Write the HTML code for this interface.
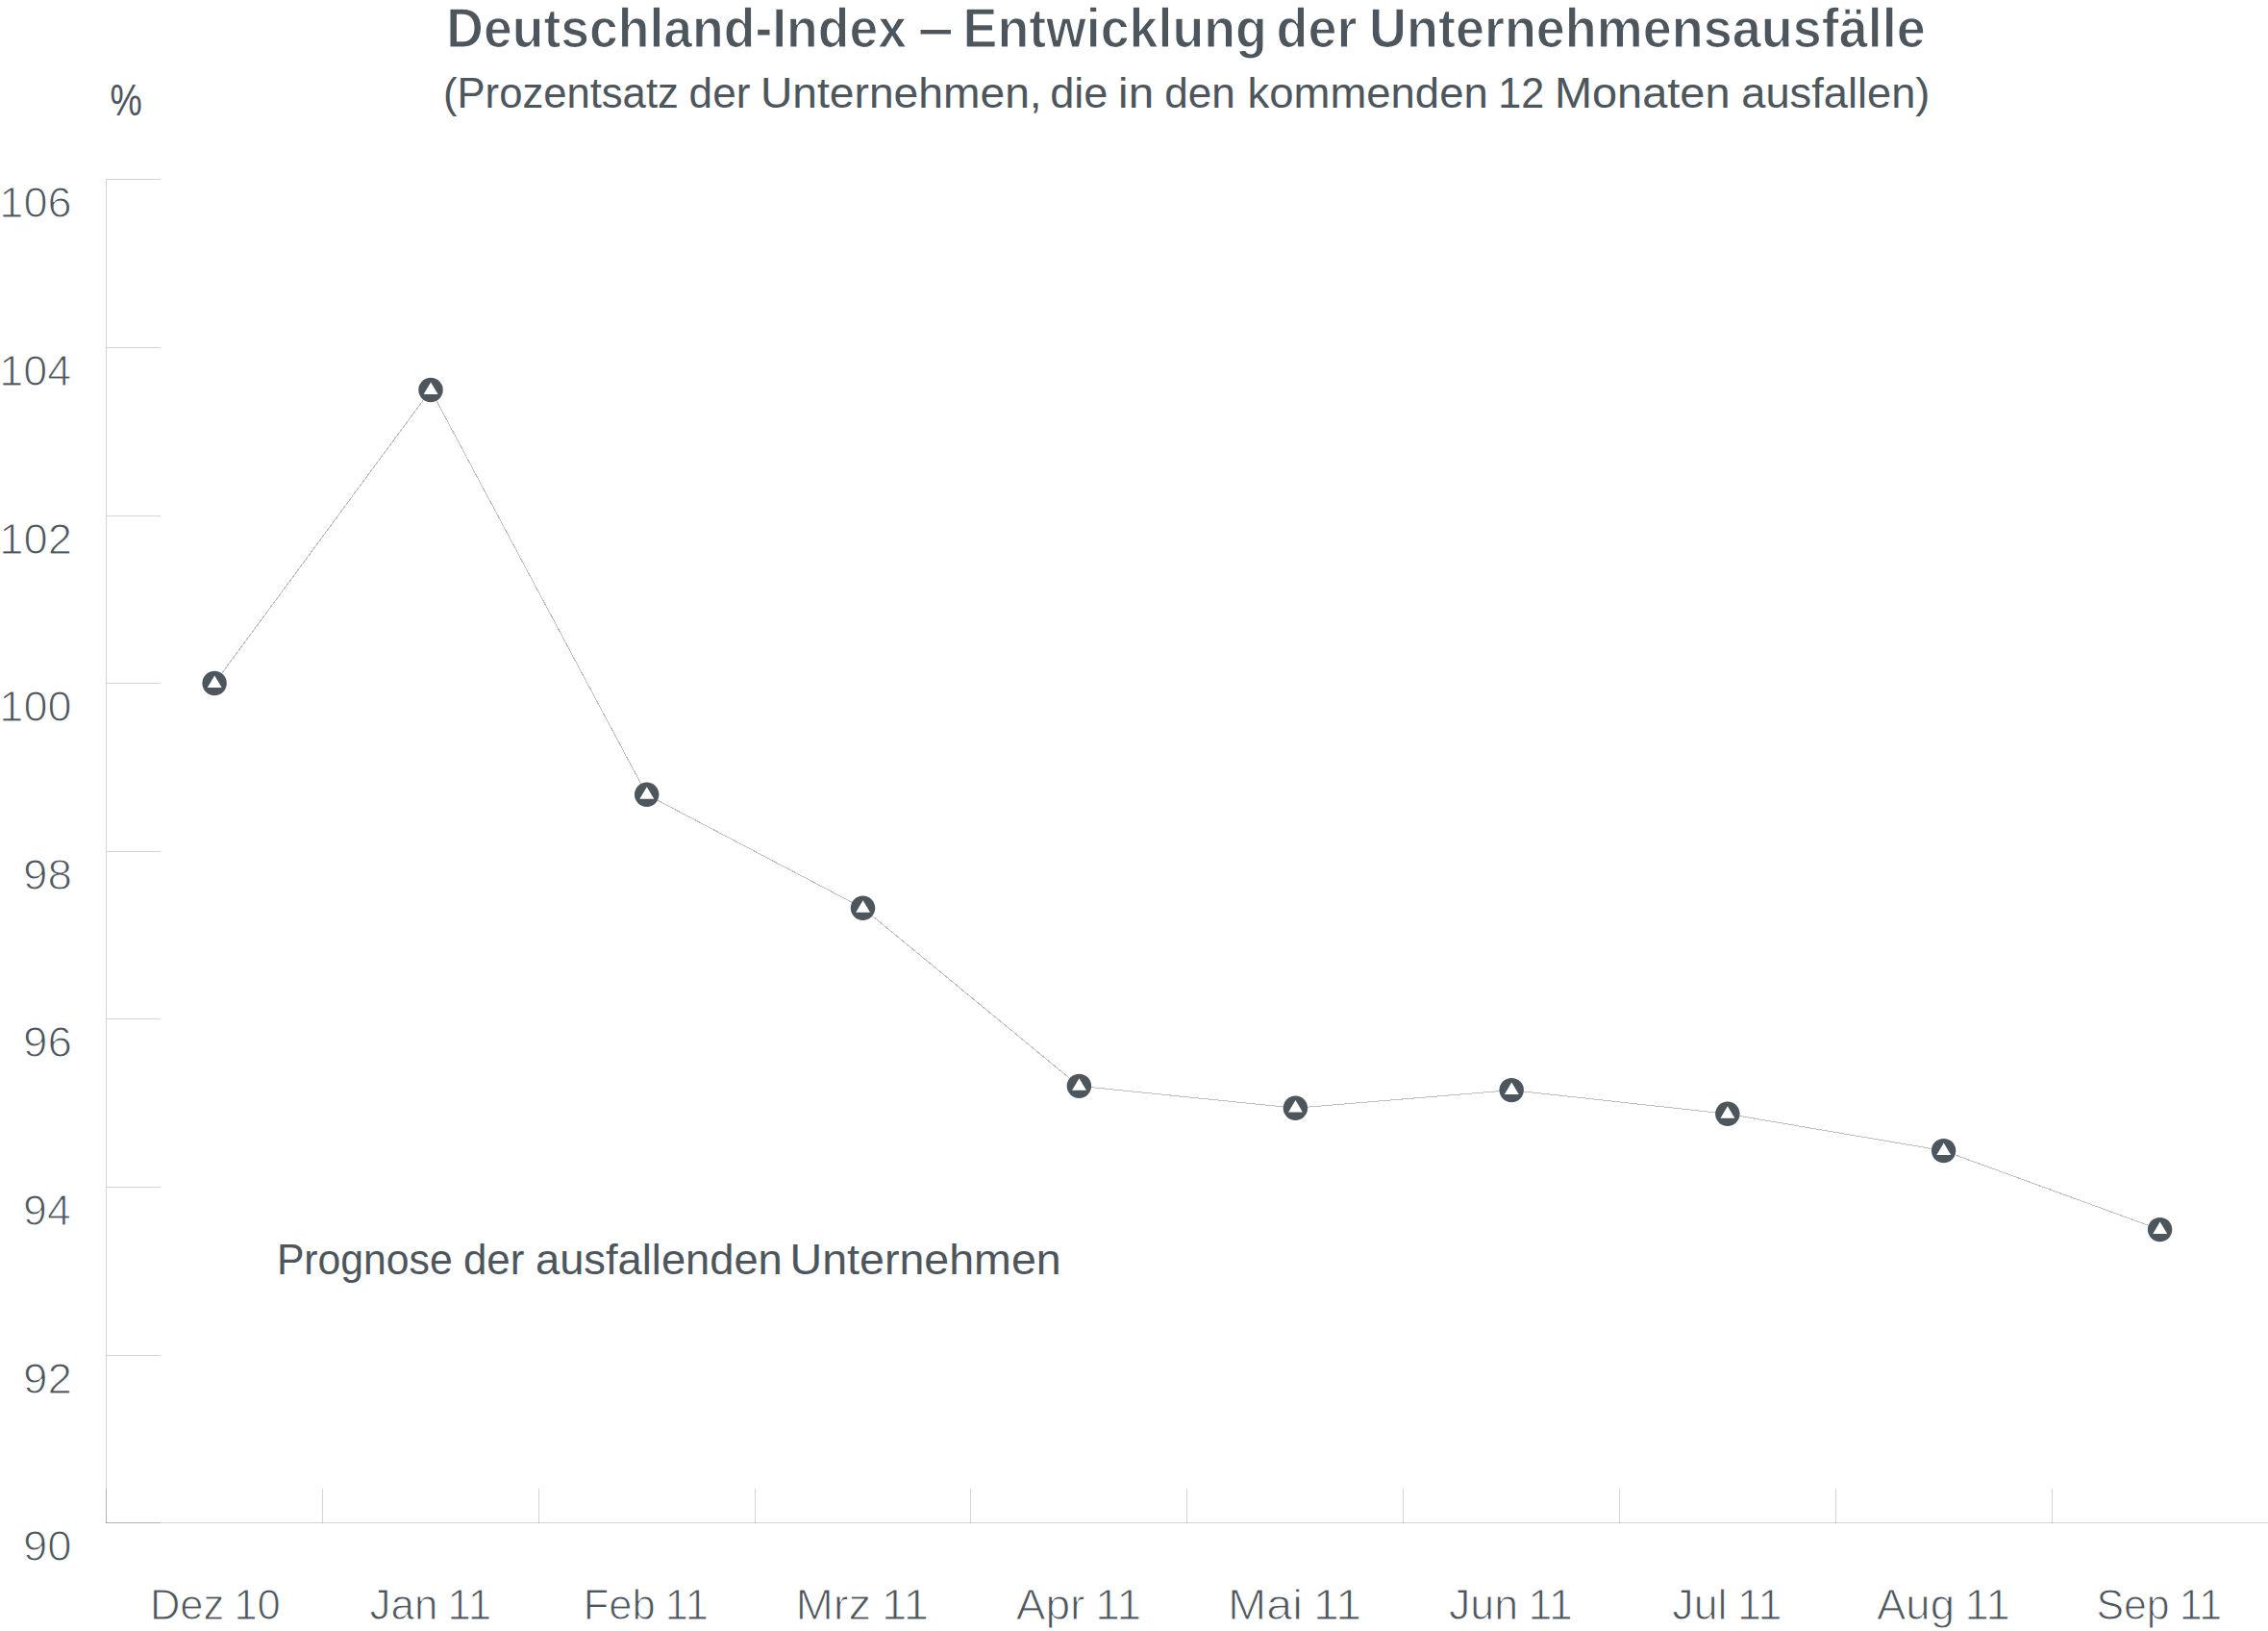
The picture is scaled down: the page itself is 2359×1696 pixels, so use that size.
<!DOCTYPE html>
<html lang="de"><head><meta charset="utf-8"><title>Deutschland-Index – Entwicklung der Unternehmensausfälle</title>
<style>
html,body{margin:0;padding:0;background:#fff;}
body{width:2359px;height:1696px;overflow:hidden;}
svg{display:block;}
text{font-family:"Liberation Sans",sans-serif;fill:#4d565d;white-space:pre;}
.t{font-weight:bold;font-size:57.3px;stroke:#fff;stroke-width:1.25px;paint-order:fill stroke;}
.s{font-size:44px;}
.p{font-size:46.5px;}
.yl{font-size:44.5px;stroke:#fff;stroke-width:1.1px;paint-order:fill stroke;}
.xl{font-size:44.3px;word-spacing:-2px;stroke:#fff;stroke-width:1.0px;paint-order:fill stroke;}
</style></head><body>
<svg width="2359" height="1696" viewBox="0 0 2359 1696">
<rect width="2359" height="1696" fill="#fff"/>

<g stroke="#4d565d" stroke-opacity="0.25" stroke-width="1" fill="none" shape-rendering="crispEdges">
<line x1="110.5" y1="186" x2="110.5" y2="1584"/>
<line x1="110" y1="1583.5" x2="2359" y2="1583.5"/>
<line x1="111" y1="186.5" x2="167" y2="186.5"/>
<line x1="111" y1="361.5" x2="167" y2="361.5"/>
<line x1="111" y1="536.5" x2="167" y2="536.5"/>
<line x1="111" y1="710.5" x2="167" y2="710.5"/>
<line x1="111" y1="885.5" x2="167" y2="885.5"/>
<line x1="111" y1="1059.5" x2="167" y2="1059.5"/>
<line x1="111" y1="1234.5" x2="167" y2="1234.5"/>
<line x1="111" y1="1409.5" x2="167" y2="1409.5"/>
<line x1="110" y1="1583.5" x2="167" y2="1583.5"/>
<line x1="110.5" y1="1548" x2="110.5" y2="1584"/>
<line x1="335.5" y1="1548" x2="335.5" y2="1584"/>
<line x1="560.5" y1="1548" x2="560.5" y2="1584"/>
<line x1="785.5" y1="1548" x2="785.5" y2="1584"/>
<line x1="1009.5" y1="1548" x2="1009.5" y2="1584"/>
<line x1="1234.5" y1="1548" x2="1234.5" y2="1584"/>
<line x1="1459.5" y1="1548" x2="1459.5" y2="1584"/>
<line x1="1684.5" y1="1548" x2="1684.5" y2="1584"/>
<line x1="1909.5" y1="1548" x2="1909.5" y2="1584"/>
<line x1="2134.5" y1="1548" x2="2134.5" y2="1584"/>
</g>
<polyline fill="none" stroke="#bbbfc3" stroke-width="1" shape-rendering="crispEdges" points="223.1,710.5 448.0,405.5 672.7,826.3 897.5,944.3 1122.4,1129.35 1347.4,1152.2 1572.2,1133.6 1796.85,1158.3 2021.65,1196.6 2246.6,1278.6"/>
<g transform="translate(223.1,710.5)"><circle r="12.7" fill="#4d565d"/><path d="M0.1,-8.1 L7.55,4.4 L-7.35,4.4 Z" fill="#fff"/></g>
<g transform="translate(448.0,405.5)"><circle r="12.7" fill="#4d565d"/><path d="M0.1,-8.1 L7.55,4.4 L-7.35,4.4 Z" fill="#fff"/></g>
<g transform="translate(672.7,826.3)"><circle r="12.7" fill="#4d565d"/><path d="M0.1,-8.1 L7.55,4.4 L-7.35,4.4 Z" fill="#fff"/></g>
<g transform="translate(897.5,944.3)"><circle r="12.7" fill="#4d565d"/><path d="M0.1,-8.1 L7.55,4.4 L-7.35,4.4 Z" fill="#fff"/></g>
<g transform="translate(1122.4,1129.35)"><circle r="12.7" fill="#4d565d"/><path d="M0.1,-8.1 L7.55,4.4 L-7.35,4.4 Z" fill="#fff"/></g>
<g transform="translate(1347.4,1152.2)"><circle r="12.7" fill="#4d565d"/><path d="M0.1,-8.1 L7.55,4.4 L-7.35,4.4 Z" fill="#fff"/></g>
<g transform="translate(1572.2,1133.6)"><circle r="12.7" fill="#4d565d"/><path d="M0.1,-8.1 L7.55,4.4 L-7.35,4.4 Z" fill="#fff"/></g>
<g transform="translate(1796.85,1158.3)"><circle r="12.7" fill="#4d565d"/><path d="M0.1,-8.1 L7.55,4.4 L-7.35,4.4 Z" fill="#fff"/></g>
<g transform="translate(2021.65,1196.6)"><circle r="12.7" fill="#4d565d"/><path d="M0.1,-8.1 L7.55,4.4 L-7.35,4.4 Z" fill="#fff"/></g>
<g transform="translate(2246.6,1278.6)"><circle r="12.7" fill="#4d565d"/><path d="M0.1,-8.1 L7.55,4.4 L-7.35,4.4 Z" fill="#fff"/></g>
<text class="t" y="48.5"><tspan x="464.3" textLength="478.7" lengthAdjust="spacingAndGlyphs">Deutschland-Index</tspan> <tspan x="954.7" textLength="37.0" lengthAdjust="spacingAndGlyphs">–</tspan> <tspan x="1001.6" textLength="316.2" lengthAdjust="spacingAndGlyphs">Entwicklung</tspan> <tspan x="1327.5" textLength="83.9" lengthAdjust="spacingAndGlyphs">der</tspan> <tspan x="1424.0" textLength="578.7" lengthAdjust="spacingAndGlyphs">Unternehmensausfälle</tspan></text>
<text class="s" y="111.9"><tspan x="461.0" textLength="244.8" lengthAdjust="spacingAndGlyphs">(Prozentsatz</tspan> <tspan x="716.6" textLength="63.8" lengthAdjust="spacingAndGlyphs">der</tspan> <tspan x="790.9" textLength="292.8" lengthAdjust="spacingAndGlyphs">Unternehmen,</tspan> <tspan x="1092.2" textLength="60.2" lengthAdjust="spacingAndGlyphs">die</tspan> <tspan x="1163.1" textLength="37.0" lengthAdjust="spacingAndGlyphs">in</tspan> <tspan x="1211.3" textLength="73.6" lengthAdjust="spacingAndGlyphs">den</tspan> <tspan x="1297.6" textLength="250.1" lengthAdjust="spacingAndGlyphs">kommenden</tspan> <tspan x="1558.3" textLength="48.0" lengthAdjust="spacingAndGlyphs">12</tspan> <tspan x="1616.9" textLength="182.6" lengthAdjust="spacingAndGlyphs">Monaten</tspan> <tspan x="1811.3" textLength="196.1" lengthAdjust="spacingAndGlyphs">ausfallen)</tspan></text>
<text class="s" y="1324.5"><tspan x="287.9" textLength="182.8" lengthAdjust="spacingAndGlyphs">Prognose</tspan> <tspan x="481.9" textLength="63.4" lengthAdjust="spacingAndGlyphs">der</tspan> <tspan x="557.0" textLength="256.8" lengthAdjust="spacingAndGlyphs">ausfallenden</tspan> <tspan x="821.6" textLength="282.1" lengthAdjust="spacingAndGlyphs">Unternehmen</tspan></text>
<text class="p" y="119.6"><tspan x="114.5" textLength="33.3" lengthAdjust="spacingAndGlyphs">%</tspan></text>
<text class="xl" y="1684.4"><tspan x="155.9" textLength="135.9" lengthAdjust="spacingAndGlyphs">Dez 10</tspan></text>
<text class="xl" y="1684.4"><tspan x="384.6" textLength="126.5" lengthAdjust="spacingAndGlyphs">Jan 11</tspan></text>
<text class="xl" y="1684.4"><tspan x="606.8" textLength="130.0" lengthAdjust="spacingAndGlyphs">Feb 11</tspan></text>
<text class="xl" y="1684.4"><tspan x="827.4" textLength="138.7" lengthAdjust="spacingAndGlyphs">Mrz 11</tspan></text>
<text class="xl" y="1684.4"><tspan x="1056.7" textLength="130.4" lengthAdjust="spacingAndGlyphs">Apr 11</tspan></text>
<text class="xl" y="1684.4"><tspan x="1277.1" textLength="139.1" lengthAdjust="spacingAndGlyphs">Mai 11</tspan></text>
<text class="xl" y="1684.4"><tspan x="1507.0" textLength="128.8" lengthAdjust="spacingAndGlyphs">Jun 11</tspan></text>
<text class="xl" y="1684.4"><tspan x="1739.3" textLength="114.2" lengthAdjust="spacingAndGlyphs">Jul 11</tspan></text>
<text class="xl" y="1684.4"><tspan x="1952.0" textLength="138.8" lengthAdjust="spacingAndGlyphs">Aug 11</tspan></text>
<text class="xl" y="1684.4"><tspan x="2180.5" textLength="130.6" lengthAdjust="spacingAndGlyphs">Sep 11</tspan></text>
<text class="yl" y="226.1"><tspan x="-0.7" textLength="75.3" lengthAdjust="spacingAndGlyphs">106</tspan></text>
<text class="yl" y="401.1"><tspan x="-0.7" textLength="74.8" lengthAdjust="spacingAndGlyphs">104</tspan></text>
<text class="yl" y="576.1"><tspan x="-0.7" textLength="75.6" lengthAdjust="spacingAndGlyphs">102</tspan></text>
<text class="yl" y="750.1"><tspan x="-0.7" textLength="75.2" lengthAdjust="spacingAndGlyphs">100</tspan></text>
<text class="yl" y="925.1"><tspan x="24.0" textLength="50.9" lengthAdjust="spacingAndGlyphs">98</tspan></text>
<text class="yl" y="1099.1"><tspan x="24.0" textLength="50.9" lengthAdjust="spacingAndGlyphs">96</tspan></text>
<text class="yl" y="1274.1"><tspan x="24.1" textLength="49.7" lengthAdjust="spacingAndGlyphs">94</tspan></text>
<text class="yl" y="1449.1"><tspan x="24.0" textLength="50.9" lengthAdjust="spacingAndGlyphs">92</tspan></text>
<text class="yl" y="1623.1"><tspan x="24.0" textLength="50.6" lengthAdjust="spacingAndGlyphs">90</tspan></text>
</svg></body></html>
